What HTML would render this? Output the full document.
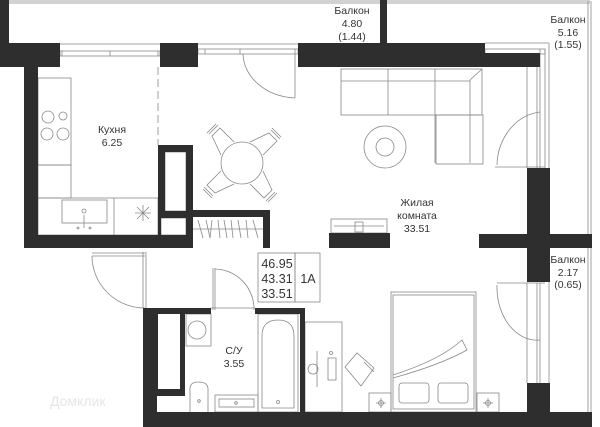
<!DOCTYPE html>
<html><head><meta charset="utf-8"><style>
html,body{margin:0;padding:0;background:#fff;}
svg{display:block;}
text{font-family:"Liberation Sans",sans-serif;fill:#333;}
</style></head><body>
<svg width="600" height="427" viewBox="0 0 600 427" xmlns="http://www.w3.org/2000/svg">
<g fill="none" stroke="#888" stroke-width="0.8">
<!-- top balcony outline -->
<line x1="9" y1="1" x2="590" y2="1"/><line x1="9" y1="3" x2="590" y2="3"/>
<line x1="588" y1="1" x2="588" y2="420"/><line x1="591" y1="1" x2="591" y2="420"/>
<line x1="549" y1="43" x2="549" y2="420"/>
<line x1="485" y1="43" x2="549" y2="43"/>
<line x1="549" y1="420" x2="591" y2="420"/>
<!-- windows top -->
<rect x="60" y="51" width="100" height="5"/><line x1="62" y1="51" x2="62" y2="56"/><line x1="110" y1="51" x2="110" y2="56"/><line x1="158" y1="51" x2="158" y2="56"/>
<line x1="60" y1="44" x2="160" y2="44"/>
<rect x="198" y="49" width="100" height="5"/><line x1="205" y1="49" x2="205" y2="54"/><line x1="240" y1="49" x2="240" y2="54"/><line x1="295" y1="49" x2="295" y2="98"/>
<line x1="198" y1="44" x2="298" y2="44"/>
<path d="M243 54 A55 45 0 0 0 295 98"/>
<line x1="158" y1="67" x2="158" y2="145" stroke-dasharray="8 4"/>
<!-- right balcony window -->
<rect x="485" y="49" width="60" height="5"/>
<line x1="540" y1="49" x2="540" y2="168"/><line x1="545" y1="49" x2="545" y2="168"/><line x1="537" y1="54" x2="537" y2="168"/>
<line x1="527" y1="67" x2="527" y2="168"/>
<line x1="495" y1="167" x2="545" y2="167"/>
<path d="M497 165 A48 55 0 0 1 540 112"/>
<!-- sofa -->
<rect x="341" y="69" width="141" height="46"/>
<line x1="388" y1="69" x2="388" y2="115"/><line x1="435" y1="69" x2="435" y2="163"/>
<rect x="436" y="115" width="47" height="49"/>
<line x1="470" y1="80" x2="482" y2="69"/><line x1="470" y1="80" x2="470" y2="163"/><line x1="341" y1="81" x2="470" y2="81"/>
<circle cx="385" cy="147" r="21"/><circle cx="385" cy="147" r="9"/>
<!-- table -->
<circle cx="242" cy="163" r="21"/>
<g transform="translate(242 163)">
<g id="ch"><path d="M-8 -21 L-22 -35 L-30 -27 L-21 -8"/><line x1="-24" y1="-38" x2="-33" y2="-29"/><line x1="-26" y1="-39" x2="-35" y2="-30"/></g>
<use href="#ch" transform="rotate(90)"/><use href="#ch" transform="rotate(180)"/><use href="#ch" transform="rotate(270)"/>
</g>
<!-- kitchen -->
<rect x="38" y="78" width="33" height="87"/><rect x="38" y="165" width="33" height="33"/>
<rect x="38" y="198" width="120" height="37"/><line x1="114" y1="198" x2="114" y2="235"/>
<rect x="62" y="200" width="45" height="23"/>
<circle cx="48" cy="117" r="6"/><circle cx="63" cy="116" r="4"/><circle cx="47" cy="134" r="6"/><circle cx="63" cy="134" r="6"/>
<circle cx="84" cy="211" r="2"/><line x1="84" y1="215" x2="84" y2="228"/><circle cx="78" cy="228" r="1"/><circle cx="90" cy="228" r="1"/>
<path d="M137 207 L149 219 M149 207 L137 219 M143 205 L143 221 M135 213 L151 213"/>
<rect x="165" y="152" width="21" height="59"/><rect x="161" y="218" width="25" height="17"/>
<!-- wardrobe -->
<line x1="193" y1="229" x2="263" y2="229"/>
<path d="M198 220 l5 18 M206 220 l4 18 M212 220 l-2 18 M218 220 l2 18 M224 220 l3 18 M231 220 l2 18 M238 220 l3 18 M246 220 l2 18 M253 220 l5 18"/>
<!-- TV -->
<rect x="331" y="219" width="56" height="14"/><line x1="334" y1="226" x2="384" y2="226"/><rect x="355" y="222" width="8" height="10"/>
<!-- corridor door -->
<line x1="92" y1="253" x2="145" y2="253"/><line x1="92" y1="256" x2="145" y2="256"/>
<line x1="143" y1="252" x2="143" y2="308"/><line x1="146" y1="252" x2="146" y2="308"/>
<path d="M92 256 A53 52 0 0 0 145 308"/>
<!-- bathroom door -->
<line x1="213" y1="268" x2="213" y2="310"/><line x1="215" y1="268" x2="215" y2="310"/>
<path d="M215 269 A40 40 0 0 1 254 310"/><line x1="211" y1="308" x2="255" y2="308"/>
<!-- info box -->
<rect x="258" y="253" width="37" height="49"/><rect x="295" y="253" width="25" height="49"/>
<!-- bathroom fixtures -->
<rect x="186" y="314" width="25" height="32"/><circle cx="197" cy="330" r="9"/>
<path d="M190 412 L190 389 Q190 382 198 382 Q208 382 208 389 L208 412"/><circle cx="199" cy="401" r="1.3"/>
<rect x="215" y="395" width="43" height="17"/><rect x="219" y="399" width="35" height="8"/><circle cx="236" cy="403" r="1.3"/>
<rect x="258" y="314" width="40" height="98"/><path d="M262 408 L262 336 Q262 320 278 320 Q294 320 294 336 L294 408 Z"/><circle cx="278" cy="402" r="1.5"/>
<!-- desk & chair -->
<rect x="305" y="322" width="37" height="90"/>
<line x1="317" y1="351" x2="317" y2="387"/><circle cx="313" cy="369" r="5"/>
<rect x="328" y="358" width="8" height="22"/><circle cx="331" cy="353" r="1.5"/>
<path d="M345 367 L357 353 L374 368 L361 386 Z"/><line x1="364" y1="362" x2="374" y2="372"/>
<!-- bed -->
<rect x="391" y="292" width="85" height="120"/><rect x="393" y="295" width="81" height="114"/>
<path d="M393 375 Q440 360 462 340 L467 350 Q440 365 393 378"/>
<rect x="399" y="383" width="30" height="20" rx="3"/><rect x="438" y="383" width="30" height="20" rx="3"/>
<rect x="369" y="393" width="22" height="19"/><rect x="477" y="393" width="22" height="19"/>
<path d="M376 403 h10 M381 398 v10 M483 403 h10 M488 398 v10"/><circle cx="381" cy="403" r="2.5"/><circle cx="488" cy="403" r="2.5"/>
<!-- right lower window -->
<line x1="497" y1="283" x2="545" y2="283"/>
<line x1="537" y1="283" x2="537" y2="383"/><line x1="540" y1="283" x2="540" y2="383"/><line x1="527" y1="283" x2="527" y2="383"/>
<path d="M497 285 A40 53 0 0 0 540 340"/>
</g>
<!-- walls -->
<g fill="#2e2e2e">
<rect x="0" y="0" width="9" height="67"/>
<rect x="0" y="43" width="60" height="24"/>
<rect x="24" y="67" width="14" height="181"/>
<rect x="24" y="235" width="169" height="13"/>
<path d="M158 145 H193 V248 H158 Z M165 152 V211 H186 V152 Z M161 218 V235 H186 V218 Z" fill-rule="evenodd"/>
<rect x="193" y="210" width="77" height="7"/><rect x="263" y="210" width="7" height="38"/>
<rect x="160" y="43" width="38" height="24"/>
<rect x="298" y="43" width="187" height="24"/>
<rect x="485" y="53" width="55" height="14"/>
<rect x="380" y="0" width="7" height="43"/>
<rect x="527" y="168" width="23" height="114"/>
<rect x="479" y="234" width="113" height="14"/>
<rect x="527" y="383" width="23" height="44"/>
<rect x="329" y="233" width="61" height="15"/>
<rect x="143" y="308" width="14" height="119"/>
<rect x="143" y="308" width="68" height="6"/><rect x="255" y="308" width="50" height="6"/>
<path d="M157 314 H185 V396 H157 Z M158 314 V389 H180 V314 Z" fill-rule="evenodd"/>
<rect x="143" y="412" width="449" height="15"/>
<rect x="300" y="308" width="5" height="104"/>
</g>
<g font-size="10.5" text-anchor="middle">
<text x="352" y="14">Балкон</text><text x="352" y="27">4.80</text><text x="352" y="40">(1.44)</text>
<text x="568" y="23">Балкон</text><text x="568" y="36">5.16</text><text x="568" y="48">(1.55)</text>
<text x="568" y="263">Балкон</text><text x="568" y="276">2.17</text><text x="568" y="288">(0.65)</text>
<text x="112" y="133">Кухня</text><text x="112" y="146">6.25</text>
<text x="417" y="206">Жилая</text><text x="417" y="219">комната</text><text x="417" y="232">33.51</text>
<text x="234" y="354">С/У</text><text x="234" y="367">3.55</text>
</g>
<g font-size="12.5" text-anchor="middle">
<text x="277" y="268">46.95</text><text x="277" y="283">43.31</text><text x="277" y="298">33.51</text>
<text x="308" y="283">1A</text>
</g>
<text x="50" y="406" font-size="14" fill="#e8e8e8" style="fill:#e6e6e6">Домклик</text>
</svg>
</body></html>
